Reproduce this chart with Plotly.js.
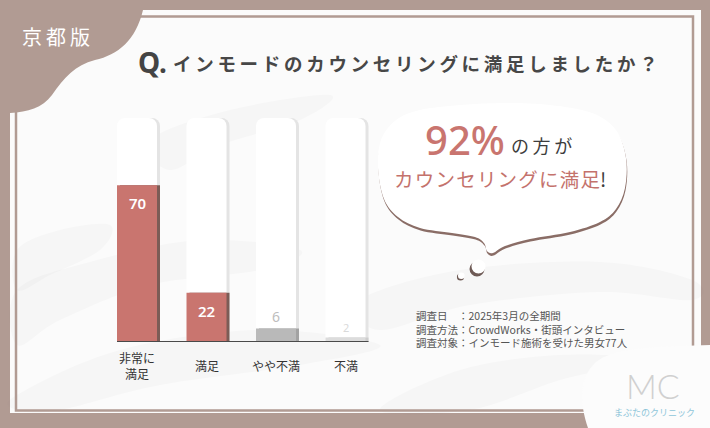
<!DOCTYPE html>
<html>
<head>
<meta charset="utf-8">
<script src="https://cdn.plot.ly/plotly-3.0.1.min.js"></script>
<style>html,body{margin:0;padding:0;background:#b19b93;}#chart{width:710px;height:428px;}</style>
</head>
<body>
<div id="chart"></div>
<script>
// ---- data ----
const categories = ['非常に<br>満足', '満足', 'やや不満', '不満'];
const values = [70, 22, 6, 2];
const trackValues = [100, 100, 100, 100];
const badgeText = '京都版';
const titleQ = 'Q.';
const titleText = 'インモードのカウンセリングに満足しましたか？';
const bubbleBig = '92%';
const bubbleSmall = 'の方が';
const bubbleLine2 = 'カウンセリングに満足';
const bubbleExcl = '!';
const surveyLines = ['調査日　：2025年3月の全期間', '調査方法：CrowdWorks・街頭インタビュー', '調査対象：インモード施術を受けた男女77人'];
const logoMark = 'MC';
const logoName = 'まぶたのクリニック';

// ---- styles ----
const W = 710, H = 428;
const BROWN = '#b19b93';
const RED = '#c9756f';
const barColors = [RED, RED, '#b9b9b9', '#dcdcdc'];
const shadowColors = ['#7c5c56', '#7c5c56', '#a2a2a2', '#cdcdcd'];
const labelColors = ['#ffffff', '#ffffff', '#bdbdbd', '#dadada'];
const labelSizes = [15, 15, 14, 11];
const CJK = '"Noto Sans CJK JP", "Noto Sans", sans-serif';

const X = px => px / W;
const Y = py => 1 - py / H;
function spaced(s, sp) { return Array.from(s).join(sp); }
// closed smooth path (Catmull-Rom -> Bezier) in paper coords
function smoothPath(pts, dx, dy) {
  dx = dx || 0; dy = dy || 0;
  const n = pts.length;
  const P = pts.map(p => [p[0] + dx, p[1] + dy]);
  let d = 'M' + X(P[0][0]).toFixed(5) + ',' + Y(P[0][1]).toFixed(5);
  for (let i = 0; i < n; i++) {
    const p0 = P[(i - 1 + n) % n], p1 = P[i], p2 = P[(i + 1) % n], p3 = P[(i + 2) % n];
    const c1 = [p1[0] + (p2[0] - p0[0]) / 6, p1[1] + (p2[1] - p0[1]) / 6];
    const c2 = [p2[0] - (p3[0] - p1[0]) / 6, p2[1] - (p3[1] - p1[1]) / 6];
    d += ' C' + [c1, c2, p2].map(q => X(q[0]).toFixed(5) + ',' + Y(q[1]).toFixed(5)).join(' ');
  }
  return d + ' Z';
}
function circle(cx, cy, r, fill) {
  return {type: 'circle', xref: 'paper', yref: 'paper', x0: X(cx - r), x1: X(cx + r), y0: Y(cy + r), y1: Y(cy - r),
    fillcolor: fill, line: {width: 0}, layer: 'below'};
}

// ---- decoration shapes ----
const shapes = [];
// white panel
shapes.push({type: 'rect', xref: 'paper', yref: 'paper', x0: X(10), x1: X(701), y0: Y(413), y1: Y(10), fillcolor: '#fbfbfb', line: {width: 0}, layer: 'below'});
// silk texture
const tex = 'rgba(120,120,120,0.04)';
[
  [[17, 290], [90, 262], [200, 240], [300, 250], [260, 270], [150, 285], [60, 320], [17, 345]],
  [[17, 395], [120, 350], [260, 330], [380, 345], [300, 365], [160, 385], [60, 410], [17, 410]],
  [[360, 300], [460, 270], [600, 262], [692, 280], [692, 300], [600, 292], [470, 305], [380, 330]],
  [[150, 140], [230, 110], [330, 95], [300, 120], [220, 145], [170, 170]],
  [[380, 410], [460, 370], [560, 355], [640, 360], [560, 380], [470, 410]],
  [[17, 250], [60, 230], [110, 225], [100, 250], [50, 275], [17, 290]]
].forEach(pts => shapes.push({type: 'path', xref: 'paper', yref: 'paper', path: smoothPath(pts), fillcolor: tex, line: {width: 0}, layer: 'below'}));
// inner frame line
shapes.push({type: 'rect', xref: 'paper', yref: 'paper', x0: X(16), x1: X(693), y0: Y(410.5), y1: Y(16.5), fillcolor: 'rgba(0,0,0,0)', line: {color: BROWN, width: 2.5}, layer: 'below'});
// top-left brown blob
shapes.push({type: 'path', xref: 'paper', yref: 'paper', layer: 'below', fillcolor: BROWN, line: {width: 0},
  path: 'M' + X(0) + ',' + Y(0) + ' L' + X(143) + ',' + Y(0) + ' L' + X(143) + ',' + Y(10) +
    ' C' + X(136) + ',' + Y(40) + ' ' + X(118) + ',' + Y(55) + ' ' + X(95) + ',' + Y(60) +
    ' C' + X(75) + ',' + Y(65) + ' ' + X(64) + ',' + Y(78) + ' ' + X(52) + ',' + Y(95) +
    ' C' + X(42) + ',' + Y(108) + ' ' + X(28) + ',' + Y(112) + ' ' + X(10) + ',' + Y(113) +
    ' L' + X(0) + ',' + Y(113) + ' Z'});
// bottom-right logo blob
shapes.push({type: 'path', xref: 'paper', yref: 'paper', layer: 'below', fillcolor: '#fcfcfc', line: {width: 0},
  path: 'M' + X(588) + ',' + Y(428) + ' C' + X(580) + ',' + Y(405) + ' ' + X(578) + ',' + Y(378) + ' ' + X(596) + ',' + Y(362) +
    ' C' + X(612) + ',' + Y(349) + ' ' + X(650) + ',' + Y(347) + ' ' + X(680) + ',' + Y(346) +
    ' L' + X(710) + ',' + Y(345) + ' L' + X(710) + ',' + Y(428) + ' Z'});
// speech bubble
const bubble = [[378, 168], [381, 140], [396, 120], [420, 110], [460, 105], [505, 103], [550, 105], [592, 113], [616, 130], [626, 158],
  [625, 188], [616, 209], [600, 222], [570, 232], [530, 239], [505, 246], [493, 253], [487, 251], [484, 243], [475, 237],
  [452, 233], [420, 228], [398, 217], [384, 199]];
shapes.push({type: 'path', xref: 'paper', yref: 'paper', layer: 'below', path: smoothPath(bubble, 0.5, 2.6), fillcolor: '#8a6d66', line: {width: 0}});
shapes.push({type: 'path', xref: 'paper', yref: 'paper', layer: 'below', path: smoothPath(bubble, 0, 0), fillcolor: '#ffffff', line: {width: 0}});
// thought circles
shapes.push(circle(477, 269, 7.5, '#6e5a55'));
shapes.push(circle(478.5, 266.5, 7, '#ffffff'));
shapes.push(circle(460.5, 277, 3.6, '#6e5a55'));
shapes.push(circle(461.3, 275.8, 3.3, '#ffffff'));

// ---- bars ----
const bw = 40 / 69.5;           // bar width in category units
const sh = 3 / 69.5;            // shadow offset
const traces = [
  {type: 'bar', x: categories, y: trackValues, offset: -bw / 2 + sh, width: bw, marker: {color: '#e4e4e4', cornerradius: 8}, hoverinfo: 'skip'},
  {type: 'bar', x: categories, y: trackValues, offset: -bw / 2, width: bw, marker: {color: '#ffffff', cornerradius: 8}, hoverinfo: 'skip'},
  {type: 'bar', x: categories, y: values, offset: -bw / 2 + sh, width: bw, marker: {color: shadowColors, cornerradius: 8}, hoverinfo: 'skip'},
  {type: 'bar', x: categories, y: values, offset: -bw / 2, width: bw, marker: {color: barColors, cornerradius: 8}, hoverinfo: 'skip'}
];
// baseline
shapes.push({type: 'line', xref: 'x', yref: 'y', x0: -bw / 2, x1: categories.length - 1 + bw / 2 + sh, y0: 0, y1: 0,
  line: {color: '#4a4a4a', width: 2}, layer: 'above'});

// ---- annotations ----
const ann = [];
ann.push({xref: 'paper', yref: 'paper', x: X(20), y: Y(36), xanchor: 'left', yanchor: 'middle', showarrow: false,
  text: spaced(badgeText, '\u2009'), font: {family: CJK, size: 20, color: '#ffffff'}});
ann.push({xref: 'paper', yref: 'paper', x: X(136), y: Y(62), xanchor: 'left', yanchor: 'middle', showarrow: false,
  text: titleQ, font: {family: '"Noto Sans", sans-serif', size: 28, color: '#444444', weight: 700}});
ann.push({xref: 'paper', yref: 'paper', x: X(171), y: Y(63), xanchor: 'left', yanchor: 'middle', showarrow: false,
  text: spaced(titleText, '\u2009'), font: {family: CJK, size: 18.5, color: '#474747', weight: 700}});
ann.push({xref: 'paper', yref: 'paper', x: X(507), y: Y(140), xanchor: 'right', yanchor: 'middle', showarrow: false,
  text: bubbleBig, font: {family: '"Noto Sans", sans-serif', size: 40, color: RED, weight: 500}});
ann.push({xref: 'paper', yref: 'paper', x: X(509), y: Y(145), xanchor: 'left', yanchor: 'middle', showarrow: false,
  text: spaced(bubbleSmall, '\u2009'), font: {family: CJK, size: 18, color: '#3d3d3d'}});
ann.push({xref: 'paper', yref: 'paper', x: X(392), y: Y(178), xanchor: 'left', yanchor: 'middle', showarrow: false,
  text: spaced(bubbleLine2, '\u200A') + '<span style="color:#3d3d3d">' + bubbleExcl + '</span>', font: {family: CJK, size: 19.5, color: '#c4726c'}});
ann.push({xref: 'paper', yref: 'paper', x: X(414), y: Y(329), xanchor: 'left', yanchor: 'middle', align: 'left', showarrow: false,
  text: surveyLines.join('<br>'), font: {family: CJK, size: 10.5, color: '#555555'}});
ann.push({xref: 'paper', yref: 'paper', x: X(653), y: Y(385), xanchor: 'center', yanchor: 'middle', showarrow: false,
  text: logoMark, font: {family: 'Lato, "Noto Sans", sans-serif', size: 34, color: '#d0d0d0', weight: 300}});
ann.push({xref: 'paper', yref: 'paper', x: X(654), y: Y(412), xanchor: 'center', yanchor: 'middle', showarrow: false,
  text: logoName, font: {family: CJK, size: 9, color: '#8fc6da'}});
// category labels
categories.forEach((c, i) => ann.push({xref: 'x', yref: 'paper', x: c, y: Y(365), xanchor: 'center', yanchor: 'middle', showarrow: false,
  text: c, font: {family: CJK, size: 12, color: '#333333'}}));
// value labels
values.forEach((v, i) => {
  const inside = i < 2;
  ann.push({xref: 'x', yref: 'y', x: categories[i], y: v, xanchor: 'center', yanchor: inside ? 'top' : 'bottom',
    yshift: inside ? -6 : 1, showarrow: false, text: String(v),
    font: {family: '"Noto Sans", sans-serif', size: labelSizes[i], color: labelColors[i], weight: inside ? 600 : 400}});
});

const layout = {
  width: W, height: H,
  margin: {l: 0, r: 0, t: 0, b: 0},
  paper_bgcolor: BROWN, plot_bgcolor: 'rgba(0,0,0,0)',
  showlegend: false, barmode: 'overlay',
  xaxis: {domain: [102.25 / W, 380.25 / W], range: [-0.5, 3.5], type: 'category', showgrid: false, zeroline: false, showline: false, showticklabels: false, ticks: ''},
  yaxis: {domain: [Y(342), Y(118)], range: [0, 100], showgrid: false, zeroline: false, showline: false, showticklabels: false, ticks: ''},
  shapes: shapes, annotations: ann
};
Plotly.newPlot('chart', traces, layout, {displayModeBar: false, staticPlot: true});
</script>
</body>
</html>
